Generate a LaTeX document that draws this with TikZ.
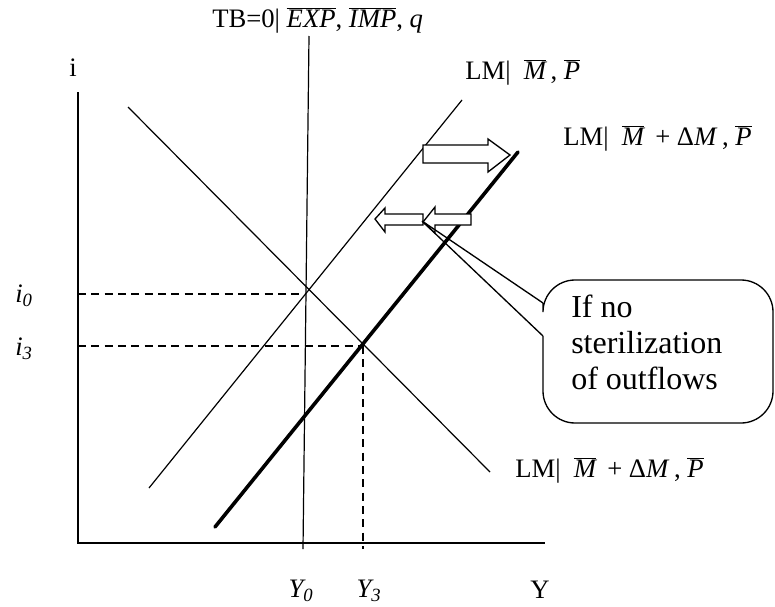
\documentclass[tikz,border=0pt]{standalone}
\usepackage{fontspec}
\setmainfont{Liberation Serif}
\newcommand{\ovl}[1]{$\overline{\hbox{\itshape #1}}$}
\begin{document}
\begin{tikzpicture}[x=0.75pt,y=-0.75pt,
  lbl/.style={font=\rmfamily\fontsize{20}{22}\selectfont, inner sep=0pt},
  thinline/.style={line width=0.9pt},
  boldline/.style={line width=2.7pt},
  dashline/.style={dash pattern=on 6pt off 4pt, line width=0.8pt},
  hollow/.style={draw, fill=white, line width=1pt, line join=miter},
  boxtext/.style={font=\rmfamily\fontsize{24}{27}\selectfont, align=left, inner sep=0pt, anchor=north west}]
\useasboundingbox (0,0) rectangle (775,607);
% axes
\coordinate (O) at (78,543);
\coordinate (ytop) at (78,92);
\coordinate (xend) at (545,543);
\draw[line width=1.4pt] (ytop) -- (O) -- (xend);
% TB=0 line
\coordinate (tbT) at (309,36);
\coordinate (tbB) at (303,549);
\draw[thinline] (tbT) -- (tbB);
% downward line
\coordinate (dS) at (128,107);
\coordinate (dE) at (490,472);
\draw[thinline] (dS) -- (dE);
% LM thin
\coordinate (lmB) at (149,488);
\coordinate (lmT) at (462,100);
\draw[thinline] (lmB) -- (lmT);
% LM bold
\coordinate (bB) at (215,527);
\coordinate (bT) at (518,152);
\draw[boldline, line cap=round] (bB) -- (bT);
% dashed
\coordinate (A) at (306,294);
\coordinate (B) at (363,346);
\coordinate (i0a) at (78,294);
\coordinate (i3a) at (78,346);
\coordinate (y3a) at (363,549);
\draw[dashline] (i0a) -- (A);
\draw[dashline] (i3a) -- (B);
\draw[dashline] (B) -- (y3a);
% labels
\node[lbl] (ylab) at (73,68) {i};
\node[lbl] (xlab) at (540,590) {Y};
\node[lbl] (i0) at (24,296) {\itshape i\textsubscript{0}};
\node[lbl] (i3) at (24,349) {\itshape i\textsubscript{3}};
\node[lbl] (Y0) at (301,591) {\itshape Y\textsubscript{0}};
\node[lbl] (Y3) at (369,591) {\itshape Y\textsubscript{3}};
\node[lbl, anchor=west] (tb) at (212,20) {TB=0|\ \ovl{EXP}, \ovl{IMP}, \textit{q}};
\node[lbl, anchor=west] (lm1) at (465,72) {LM|\ \ \ovl{M}\,, \ovl{P}};
\node[lbl, anchor=west] (lm2) at (563,138) {LM|\ \ \ovl{M}\, + Δ\textit{M}\,, \ovl{P}};
\node[lbl, anchor=west] (lm3) at (515,470) {LM|\ \ \ovl{M}\, + Δ\textit{M}\,, \ovl{P}};
% big hollow arrow right
\draw[hollow] (423,145) -- (488,145) -- (488,139) -- (510,155) -- (488,172) -- (488,163) -- (423,163) -- cycle;
% small hollow arrows left
\draw[hollow] (423,214) -- (385,214) -- (385,208) -- (375,219) -- (385,232) -- (385,225) -- (423,225) -- cycle;
\draw[hollow] (471,214) -- (435,214) -- (435,207) -- (423,222) -- (435,233) -- (435,225) -- (471,225) -- cycle;
% callout
\coordinate (tip) at (422,221);
\coordinate (cu) at (543,303);
\coordinate (cl) at (543,336);
\draw[line width=1pt, rounded corners=24] (cu) -- (543,280) -- (773,280) -- (773,423) -- (543,423) -- (cl);
\draw[line width=1pt, line join=miter] (cu) -- (tip) -- (cl);
\node[boxtext] (ctext) at (571,295) {If no\\sterilization\\of outflows};
\end{tikzpicture}
\end{document}
